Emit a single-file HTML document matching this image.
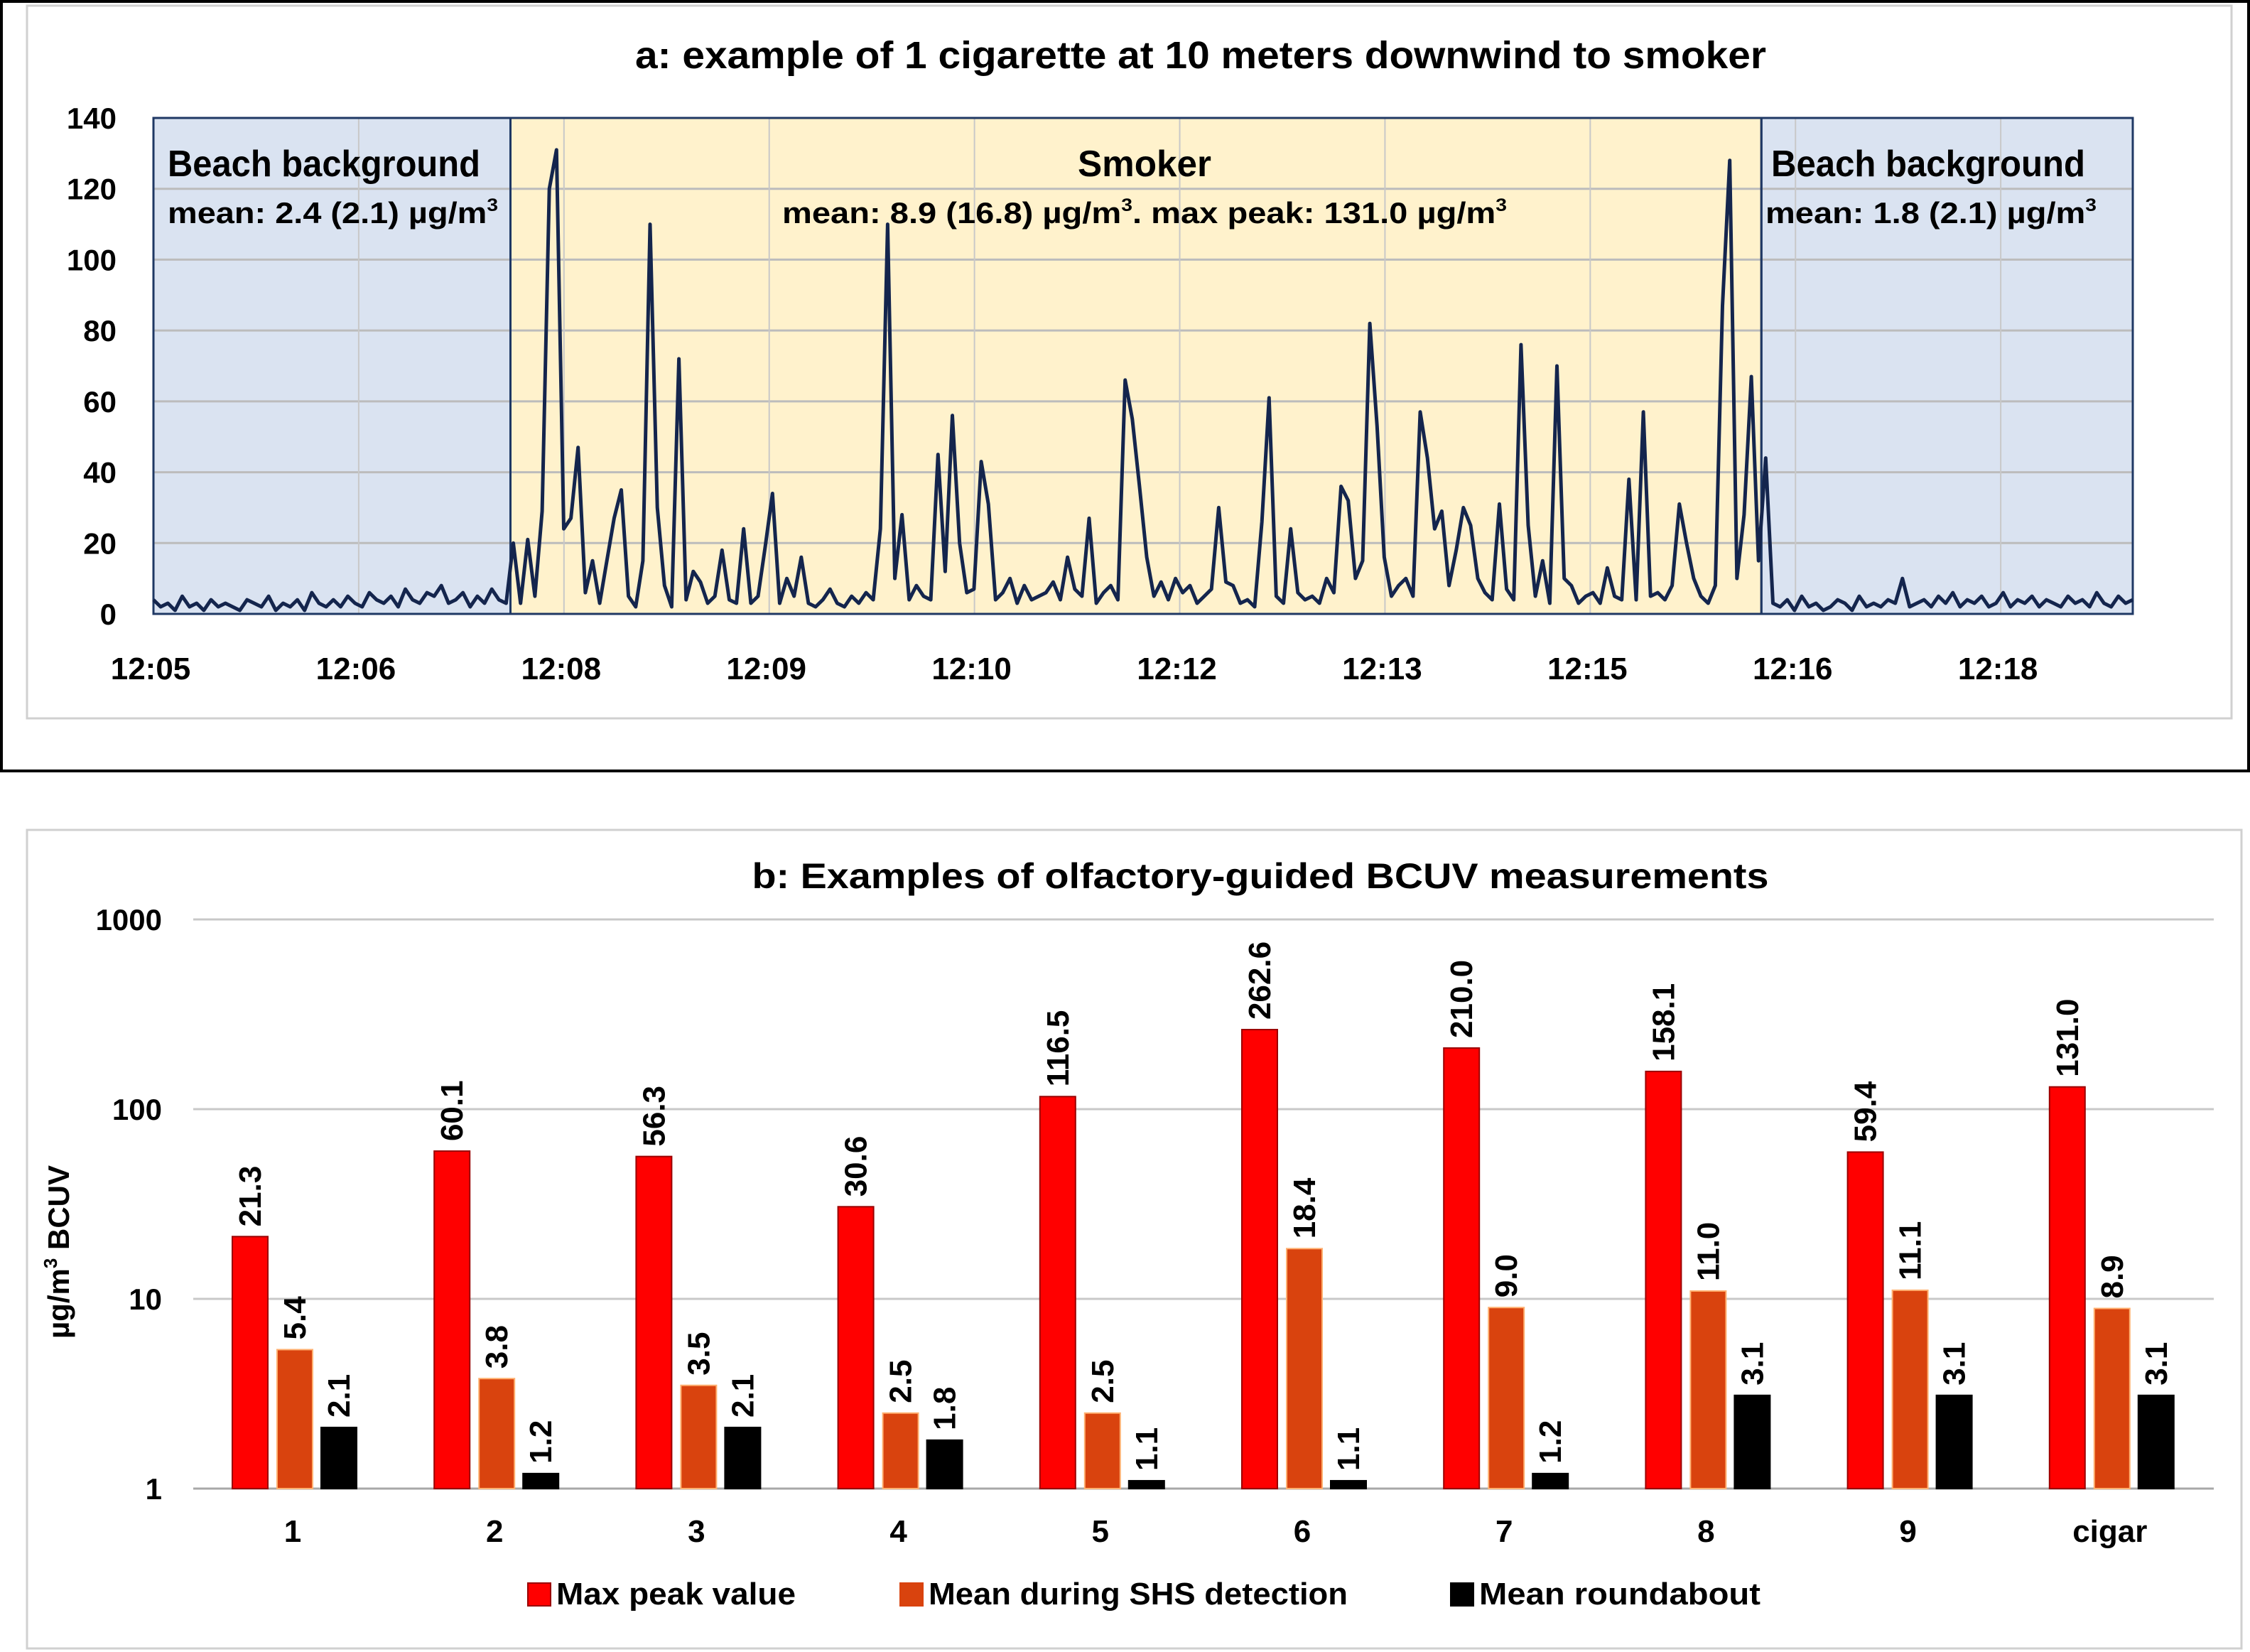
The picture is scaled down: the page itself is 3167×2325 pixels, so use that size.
<!DOCTYPE html>
<html><head><meta charset="utf-8"><style>
html,body{margin:0;padding:0;background:#fff;}
svg{display:block;font-family:"Liberation Sans",sans-serif;font-weight:bold;}
</style></head><body>
<svg id="s" width="3167" height="2325" viewBox="0 0 3167 2325" xmlns="http://www.w3.org/2000/svg">
<rect x="0" y="0" width="3167" height="2325" fill="#fff"/>
<rect x="2" y="2" width="3163" height="1083" fill="none" stroke="#000" stroke-width="4"/>
<rect x="38" y="8" width="3103" height="1003" fill="none" stroke="#d0d0d0" stroke-width="3"/>
<text x="1690" y="96" font-size="54" text-anchor="middle" textLength="1592" lengthAdjust="spacingAndGlyphs">a: example of 1 cigarette at 10 meters downwind to smoker</text>
<g id="ga"></g>
<rect x="38" y="1168" width="3117" height="1152" fill="none" stroke="#d0d0d0" stroke-width="3"/>
<text x="1774" y="1250" font-size="50" text-anchor="middle" textLength="1431" lengthAdjust="spacingAndGlyphs">b: Examples of olfactory-guided BCUV measurements</text>
<g id="gb"></g>
</svg>
<script>
// ---------- Chart a data ----------
const bgLeft=[4,2,3,1,5,2,3,1,4,2,3,2,1,4,3,2,5,1,3,2,4,1,6,3,2,4,2,5,3,2,6,4,3,5,2,7,4,3,6,5,8,3,4,6,2,5,3,7,4,3];
const smoker=[20,3,21,5,29,120,131,24,27,47,6,15,3,15,27,35,5,2,15,110,30,8,2,72,4,12,9,3,5,18,4,3,24,3,5,19,34,3,10,5,16,3,2,4,7,3,2,5,3,6,4,24,110,10,28,4,8,5,4,45,12,56,20,6,7,43,31,4,6,10,3,8,4,5,6,9,4,16,7,5,27,3,6,8,4,66,55,36,16,5,9,4,10,6,8,3,5,7,30,9,8,3,4,2,26,61,5,3,24,6,4,5,3,10,6,36,32,10,15,82,53,16,5,8,10,5,57,44,24,29,8,18,30,25,10,6,4,31,7,4,76,25,5,15,3,70,10,8,3,5,6,3,13,5,4,38,4,57,5,6,4,8,31,20,10,5,3,8,87,128,10,28,67,15,44];
const bgRight=[3,2,4,1,5,2,3,1,2,4,3,1,5,2,3,2,4,3,10,2,3,4,2,5,3,6,2,4,3,5,2,3,6,2,4,3,5,2,4,3,2,5,3,4,2,6,3,2,5,3,4];
const yTicksA=[0,20,40,60,80,100,120,140];
const xLabelsA=["12:05","12:06","12:08","12:09","12:10","12:12","12:13","12:15","12:16","12:18"];
// ---------- Chart b data ----------
const cats=["1","2","3","4","5","6","7","8","9","cigar"];
const maxPeak=[21.3,60.1,56.3,30.6,116.5,262.6,210.0,158.1,59.4,131.0];
const meanSHS=[5.4,3.8,3.5,2.5,2.5,18.4,9.0,11.0,11.1,8.9];
const meanRound=[2.1,1.2,2.1,1.8,1.1,1.1,1.2,3.1,3.1,3.1];
const yTicksB=[1,10,100,1000];

const NS="http://www.w3.org/2000/svg";
function mk(tag,attrs,parent,txt){const e=document.createElementNS(NS,tag);for(const k in attrs)e.setAttribute(k,attrs[k]);if(txt!==undefined)e.textContent=txt;parent.appendChild(e);return e;}

// ---------- Chart a ----------
(function(){
const g=document.getElementById('ga');
const L=216,R=3002,T=166,B=864,ymax=140;
const series=bgLeft.concat(smoker,bgRight);
const n=series.length;
const xA=i=>L+i*(R-L)/(n-1);
const yA=v=>B-v*(B-T)/ymax;
const sx0=xA(bgLeft.length-0.4), sx1=xA(bgLeft.length+smoker.length-1.6);
let r=mk('rect',{x:L,y:T,width:sx0-L,height:B-T,fill:'#dae3f1'},g);

r=mk('rect',{x:sx0,y:T,width:sx1-sx0,height:B-T,fill:'#fff2cc'},g);

r=mk('rect',{x:sx1,y:T,width:R-sx1,height:B-T,fill:'#dae3f1'},g);

yTicksA.forEach(v=>{
  mk('line',{x1:L,x2:R,y1:yA(v),y2:yA(v),stroke:'#bcbcbc','stroke-width':3},g);
  const t=mk('text',{x:164,y:yA(v)+15,'font-size':42,'text-anchor':'end'},g,String(v));
  
});
const step=(R-L)*143/1379;
xLabelsA.forEach((s,i)=>{
  const x=L+i*step-4;
  if(i>0) mk('line',{x1:x+4,x2:x+4,y1:T,y2:B,stroke:'#c8c8c8','stroke-width':2},g);
  const t=mk('text',{x:x,y:956,'font-size':44,'text-anchor':'middle'},g,s);
  
});
[[L,sx0],[sx0,sx1],[sx1,R]].forEach(p=>mk('rect',{x:p[0],y:T,width:p[1]-p[0],height:B-T,fill:'none',stroke:'#1f3864','stroke-width':3},g));
const pts=series.map((v,i)=>xA(i).toFixed(1)+','+yA(v).toFixed(1)).join(' ');
const pl=mk('polyline',{points:pts,fill:'none',stroke:'#14254d','stroke-width':5,'stroke-linejoin':'round'},g);

function lab(x,y,w,size,txt,name,sup){
  const t=mk('text',{x:x,y:y,'font-size':size,textLength:w,lengthAdjust:'spacingAndGlyphs'},g);
  
  if(!sup){t.textContent=txt;return;}
  const parts=txt.split('³');
  parts.forEach((p,i)=>{
    const a={}; if(i>0)a.dy=size*0.4;
    mk('tspan',a,t,p);
    if(i<parts.length-1) mk('tspan',{'font-size':size*0.6,dy:-size*0.4},t,'3');
  });
}
lab(236,248,440,52,'Beach background','label-beach-left');
lab(236,314,465,42,'mean: 2.4 (2.1) µg/m³','label-mean-left',true);
lab(1517,248,188,52,'Smoker','label-smoker');
lab(1101,314,1020,42,'mean: 8.9 (16.8) µg/m³. max peak: 131.0 µg/m³','label-mean-smoker',true);
lab(2493,248,442,52,'Beach background','label-beach-right');
lab(2485,314,466,42,'mean: 1.8 (2.1) µg/m³','label-mean-right',true);
})();

// ---------- Chart b ----------
(function(){
const g=document.getElementById('gb');
const L=272,R=3116,yTop=1294,yBot=2095;
const yB=v=>yBot-Math.log10(v)*(yBot-yTop)/3;
const xC=i=>415+i*284.2;
yTicksB.forEach(v=>{
  mk('line',{x1:L,x2:R,y1:yB(v),y2:yB(v),stroke:v===1?'#a8a8a8':'#c8c8c8','stroke-width':3},g);
  const t=mk('text',{x:228,y:yB(v)+15,'font-size':42,'text-anchor':'end'},g,String(v));
  
});
const yt=mk('text',{x:0,y:0,'font-size':42,'text-anchor':'middle',transform:'translate(97,1762) rotate(-90)'},g);

mk('tspan',{},yt,'µg/m');mk('tspan',{'font-size':26,dy:-17},yt,'3');mk('tspan',{dy:17},yt,' BCUV');
const series=[[maxPeak,-63,'#ff0000','#9a0000','bar-max-peak'],[meanSHS,0,'#d9430e','#ffb070','bar-mean-shs'],[meanRound,62,'#000000','#000','bar-mean-roundabout']];
const W=50;
series.forEach(s=>{
  s[0].forEach((v,i)=>{
    const cx=xC(i)+s[1], y=yB(v);
    const b=mk('rect',{x:cx-W/2,y:y,width:W,height:yBot-y,fill:s[2],stroke:s[3],'stroke-width':2},g);
    
    const t=mk('text',{x:0,y:0,'font-size':44,transform:'translate('+(cx+15)+','+(y-14)+') rotate(-90)'},g,v.toFixed(1));
    
  });
});
cats.forEach((c,i)=>{
  const t=mk('text',{x:xC(i)-3,y:2170,'font-size':44,'text-anchor':'middle'},g,c);
  
});
const leg=[[743,'#ff0000','#9a0000','Max peak value',337,'legend-max-peak'],[1267,'#d9430e','#d9430e','Mean during SHS detection',590,'legend-mean-shs'],[2042,'#000','#000','Mean roundabout',396,'legend-mean-roundabout']];
leg.forEach(l=>{
  const e=mk('g',{},g);
  
  mk('rect',{x:l[0],y:2228,width:32,height:32,fill:l[1],stroke:l[2],'stroke-width':2},e);
  mk('text',{x:l[0]+40,y:2258,'font-size':44,textLength:l[4],lengthAdjust:'spacingAndGlyphs'},e,l[3]);
});
})();
</script>
</body></html>
